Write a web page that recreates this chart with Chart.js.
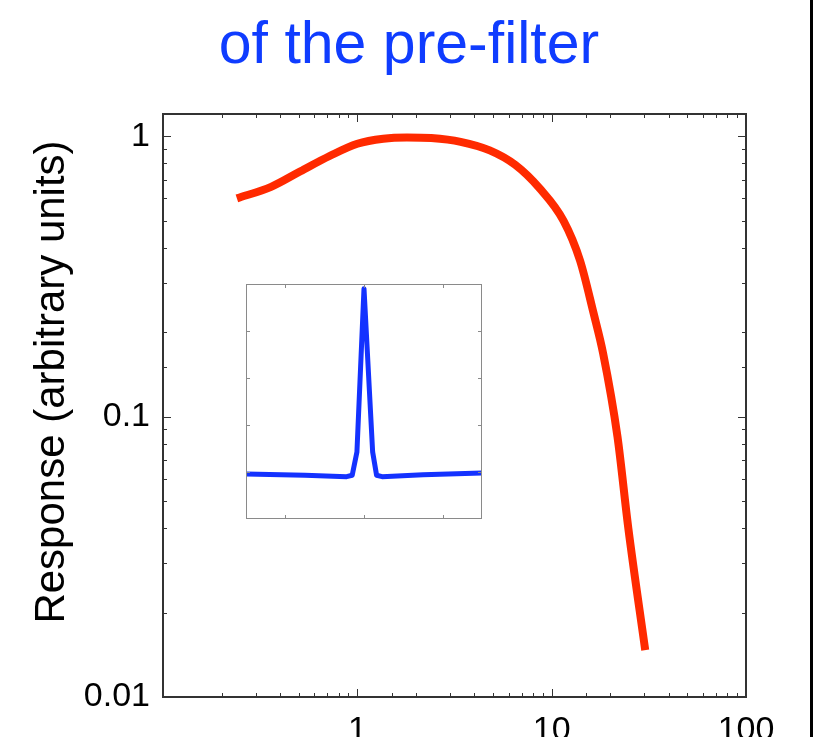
<!DOCTYPE html>
<html>
<head>
<meta charset="utf-8">
<script src="https://cdn.jsdelivr.net/npm/chart.js@4.4.1/dist/chart.umd.min.js"></script>
<style>
  html, body { margin: 0; padding: 0; background: #fff; overflow: hidden; }
  #wrap { position: relative; width: 828px; height: 790px; }
  #main { position: absolute; left: 0; top: 0; }
  #inset { position: absolute; left: 236px; top: 274px; }
  #edge { position: absolute; left: 810px; top: 0; width: 3px; height: 790px; background: #000; }
</style>
</head>
<body>
<div id="wrap">
  <canvas id="main" width="828" height="790"></canvas>
  <canvas id="inset" width="256" height="256"></canvas>
  <div id="edge"></div>
</div>
<script>
// pre-filter response vs frequency (log-log)
const freq = [0.24, 0.36, 0.51, 0.72, 1.0, 1.36, 1.8, 2.4, 3.4, 4.8, 6.5, 8.7, 11.5, 14, 16.4, 18.4, 21.8, 24.8, 30.3];
const resp = [0.60, 0.66, 0.75, 0.85, 0.94, 0.98, 0.99, 0.985, 0.955, 0.89, 0.79, 0.65, 0.50, 0.36, 0.235, 0.168, 0.085, 0.04, 0.0147];

// spatial kernel shown in the inset
const pos = [-1.5, -0.75, -0.22, -0.15, -0.09, 0, 0.11, 0.16, 0.23, 0.75, 1.5];
const kernel = [-0.008, -0.014, -0.02, -0.014, 0.085, 0.78, 0.085, -0.014, -0.02, -0.012, -0.004];

const xTickLabels = [1, 10, 100];
const yTickLabels = [0.01, 0.1, 1];

const titleText = "of the pre-filter";
const yTitle = "Response (arbitrary units)";

const FONT = "'Liberation Sans', Arial, Helvetica, sans-serif";

const isPow10 = (v) => Math.abs(Math.log10(v) - Math.round(Math.log10(v))) < 1e-6;

// box with inward ticks, like a matlab axes
const boxTicks = {
  id: "boxTicks",
  afterDraw(chart, args, opts) {
    const { ctx, chartArea: a } = chart;
    const xs = chart.scales.x, ys = chart.scales.y;
    ctx.save();
    ctx.strokeStyle = opts.color;
    ctx.lineWidth = opts.tickWidth;
    ctx.beginPath();
    xs.ticks.forEach(t => {
      if (t.value < xs.min || t.value > xs.max) return;
      const len = opts.major(t.value) ? opts.majorLen : opts.minorLen;
      const px = Math.round(xs.getPixelForValue(t.value)) + 0.5;
      ctx.moveTo(px, a.bottom); ctx.lineTo(px, a.bottom - len);
      ctx.moveTo(px, a.top); ctx.lineTo(px, a.top + len);
    });
    ys.ticks.forEach(t => {
      if (t.value < ys.min || t.value > ys.max) return;
      const len = opts.major(t.value) ? opts.majorLen : opts.minorLen;
      const py = Math.round(ys.getPixelForValue(t.value)) + 0.5;
      ctx.moveTo(a.left, py); ctx.lineTo(a.left + len, py);
      ctx.moveTo(a.right, py); ctx.lineTo(a.right - len, py);
    });
    ctx.stroke();
    ctx.lineWidth = opts.boxWidth;
    ctx.strokeRect(a.left, a.top, a.right - a.left, a.bottom - a.top);
    ctx.restore();
  }
};

// heading and rotated axis label
const labels = {
  id: "labels",
  afterDraw(chart) {
    const { ctx } = chart;
    ctx.save();
    ctx.fillStyle = "#0f3cff";
    ctx.font = "59px " + FONT;
    ctx.textAlign = "center";
    ctx.textBaseline = "alphabetic";
    ctx.fillText(titleText, 409, 63);

    ctx.fillStyle = "#000";
    ctx.font = "42px " + FONT;
    ctx.translate(52, 382);
    ctx.rotate(-Math.PI / 2);
    ctx.textBaseline = "middle";
    ctx.fillText(yTitle, 0, 0);
    ctx.restore();
  }
};

new Chart(document.getElementById("main"), {
  type: "line",
  plugins: [boxTicks, labels],
  data: {
    datasets: [{
      data: freq.map((f, i) => ({ x: f, y: resp[i] })),
      borderColor: "#ff2a00",
      borderWidth: 8,
      borderCapStyle: "butt",
      borderJoinStyle: "round",
      cubicInterpolationMode: "monotone",
      pointRadius: 0,
      fill: false
    }]
  },
  options: {
    responsive: false,
    animation: false,
    devicePixelRatio: 1,
    layout: { padding: { left: 0, top: 114, right: 82, bottom: 0 } },
    plugins: {
      legend: { display: false },
      tooltip: { enabled: false },
      boxTicks: { color: "#333", tickWidth: 1, boxWidth: 2, majorLen: 8, minorLen: 4, major: isPow10 }
    },
    scales: {
      x: {
        type: "logarithmic",
        min: 0.1,
        max: 100,
        grid: { display: false, drawTicks: false },
        border: { display: false },
        ticks: {
          autoSkip: false,
          maxRotation: 0,
          padding: 13,
          color: "#000",
          font: { family: FONT, size: 34 },
          callback: (v) => xTickLabels.some(l => Math.abs(l - v) < 1e-9) ? String(v) : ""
        },
        afterFit: (s) => { s.height = 93; }
      },
      y: {
        type: "logarithmic",
        min: 0.01,
        max: 1.2,
        grid: { display: false, drawTicks: false },
        border: { display: false },
        ticks: {
          autoSkip: false,
          padding: 13,
          color: "#000",
          font: { family: FONT, size: 34 },
          callback: (v) => yTickLabels.some(l => Math.abs(l - v) < 1e-9) ? String(v) : ""
        },
        afterFit: (s) => { s.width = 163; }
      }
    }
  }
});

// inset axes: plain linear box, no labels
const insetTicksX = [-1, 0, 1];
const insetTicksY = [0, 0.2, 0.4, 0.6];

new Chart(document.getElementById("inset"), {
  type: "line",
  plugins: [{
    id: "insetBox",
    beforeDraw(chart) {
      const { ctx, chartArea: a } = chart;
      ctx.save();
      ctx.fillStyle = "#fff";
      ctx.fillRect(a.left, a.top, a.right - a.left, a.bottom - a.top);
      ctx.restore();
    },
    afterDraw(chart) {
      const { ctx, chartArea: a } = chart;
      const xs = chart.scales.x, ys = chart.scales.y;
      ctx.save();
      ctx.strokeStyle = "#8a8a8a";
      ctx.lineWidth = 1;
      ctx.beginPath();
      insetTicksX.forEach(v => {
        const px = Math.round(xs.getPixelForValue(v)) + 0.5;
        ctx.moveTo(px, a.bottom); ctx.lineTo(px, a.bottom - 4);
        ctx.moveTo(px, a.top); ctx.lineTo(px, a.top + 4);
      });
      insetTicksY.forEach(v => {
        const py = Math.round(ys.getPixelForValue(v)) + 0.5;
        ctx.moveTo(a.left, py); ctx.lineTo(a.left + 4, py);
        ctx.moveTo(a.right, py); ctx.lineTo(a.right - 4, py);
      });
      ctx.stroke();
      ctx.strokeRect(a.left + 0.5, a.top + 0.5, a.right - a.left - 1, a.bottom - a.top - 1);
      ctx.restore();
    }
  }],
  data: {
    datasets: [{
      data: pos.map((p, i) => ({ x: p, y: kernel[i] })),
      borderColor: "#1432ff",
      borderWidth: 5,
      borderJoinStyle: "round",
      tension: 0,
      pointRadius: 0,
      fill: false
    }]
  },
  options: {
    responsive: false,
    animation: false,
    devicePixelRatio: 1,
    layout: { padding: { left: 10, top: 10, right: 10, bottom: 11 } },
    plugins: { legend: { display: false }, tooltip: { enabled: false } },
    scales: {
      x: { type: "linear", min: -1.5, max: 1.5, display: false },
      y: { type: "linear", min: -0.2, max: 0.8, display: false }
    }
  }
});
</script>
</body>
</html>
